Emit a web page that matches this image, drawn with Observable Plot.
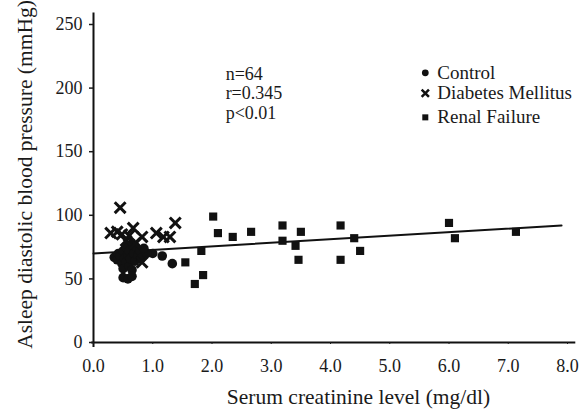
<!DOCTYPE html>
<html><head><meta charset="utf-8">
<script src="https://cdn.jsdelivr.net/npm/d3@7"></script>
<script src="https://cdn.jsdelivr.net/npm/@observablehq/plot@0.6"></script>
<style>
body{margin:0;background:#fff;}
svg, svg text { font-family: "Liberation Serif", "Times New Roman", Times, serif !important; }
</style>
</head><body>
<div id="chart"></div>
<script>
// Control group (serum creatinine, asleep DBP)
const controlX = [0.35,0.40,0.42,0.45,0.48,0.50,0.50,0.52,0.55,0.55,0.58,0.60,0.60,0.62,0.65,0.65,0.68,0.70,0.72,0.75,0.78,0.80,0.50,0.58,0.65,1.00,1.16,1.33,0.90,0.85];
const controlY = [67,65,70,68,62,72,58,66,75,63,69,60,72,66,78,57,70,64,75,68,72,66,51,50,52,70,68,62,70,74];
// Diabetes mellitus
const dmX = [0.45,0.29,0.40,0.48,0.67,0.82,1.06,1.18,1.29,1.38,0.82,0.55,0.70,0.60];
const dmY = [106,86,87,85,90,83,86,83,83,94,63,80,78,84];
// Renal failure
const rfX = [1.55,1.71,1.82,1.85,2.02,2.10,2.35,2.66,3.19,3.19,3.41,3.46,3.50,4.17,4.17,4.40,4.50,6.00,6.10,7.13];
const rfY = [63,46,72,53,99,86,83,87,92,80,76,65,87,92,65,82,72,94,82,87];
// Regression line endpoints
const regX = [0, 7.9];
const regY = [70, 92];
// Ticks
const xTicks = [0,1,2,3,4,5,6,7,8];
const yTicks = [0,50,100,150,200,250];
// Annotation and legend text
const statsText = ["n=64","r=0.345","p<0.01"];
const legendNames = ["Control","Diabetes Mellitus","Renal Failure"];
const legendSymbols = ["circle","times","square"];

const ctrl = controlX.map((x,i)=>({x, y: controlY[i]}));
const dm = dmX.map((x,i)=>({x, y: dmY[i]}));
const rf = rfX.map((x,i)=>({x, y: rfY[i]}));
const reg = regX.map((x,i)=>({x, y: regY[i]}));
const stats = statsText.map((t,i)=>({t, x: 2.23, y: 211 - i*15.3}));
const legend = legendNames.map((t,i)=>({t, s: legendSymbols[i], x: 5.6, y: [212,196,177][i]}));

const chart = Plot.plot({
  width: 579, height: 411,
  marginLeft: 93, marginRight: 12, marginTop: 24, marginBottom: 69,
  style: {fontSize: "18px", color: "#1a1a1a", background: "#fff"},
  x: {domain: [0, 8]},
  y: {domain: [0, 250]},
  symbol: {type: "identity"},
  marks: [
    Plot.ruleX([0], {y1: -4, y2: 259, stroke: "#111", strokeWidth: 2}),
    Plot.ruleY([0], {x1: -0.03, x2: 8.14, stroke: "#111", strokeWidth: 2}),
    Plot.axisY({ticks: yTicks, tickSize: 4, tickPadding: 7, tickFormat: d => d, strokeWidth: 1.5, fontSize: 18, label: null}),
    Plot.axisX({ticks: xTicks, tickSize: 2, tickPadding: 15, tickFormat: d => d.toFixed(1), fontSize: 18, label: null}),
    Plot.text(["Serum creatinine level (mg/dl)"], {frameAnchor: "bottom", dx: 28, dy: 61, fontSize: 21.5, fill: "#1a1a1a"}),
    Plot.text(["Asleep diastolic blood pressure (mmHg)"], {frameAnchor: "left", textAnchor: "middle", dx: -68, dy: -9, rotate: -90, fontSize: 21.5, fill: "#1a1a1a"}),
    Plot.line(reg, {x: "x", y: "y", stroke: "#111", strokeWidth: 2}),
    Plot.dot(ctrl, {x: "x", y: "y", r: 4.8, fill: "#111", stroke: "none"}),
    Plot.dot(dm, {x: "x", y: "y", symbol: "times", r: 5, stroke: "#111", strokeWidth: 3}),
    Plot.dot(rf, {x: "x", y: "y", symbol: "square", r: 4.6, fill: "#111", stroke: "none"}),
    Plot.text(stats, {x: "x", y: "y", text: "t", textAnchor: "start", fontSize: 18, fill: "#1a1a1a"}),
    Plot.dot(legend, {x: "x", y: "y", symbol: "s", r: 3.4, fill: d => d.s === "times" ? "none" : "#111", stroke: d => d.s === "times" ? "#111" : "none", strokeWidth: 2.5}),
    Plot.text(legend, {x: "x", y: "y", text: "t", textAnchor: "start", dx: 12, fontSize: 19, fill: "#1a1a1a"})
  ]
});
document.getElementById("chart").appendChild(chart);
</script>
</body></html>
